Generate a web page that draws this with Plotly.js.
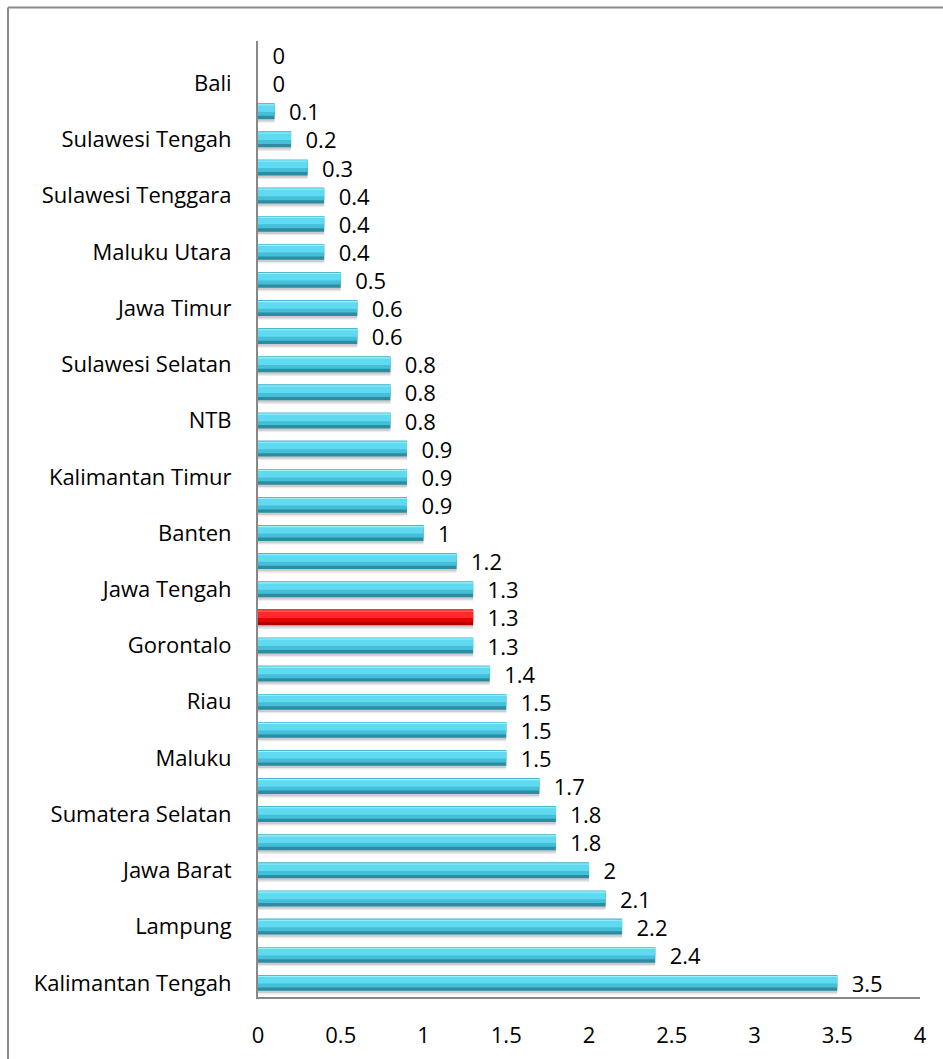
<!DOCTYPE html>
<html>
<head>
<meta charset="utf-8">
<script src="https://cdn.plot.ly/plotly-3.0.1.min.js"></script>
<style>
  html, body { margin: 0; padding: 0; background: #ffffff; }
  #chart { width: 943px; height: 1059px; }
</style>
</head>
<body>
<div id="chart"></div>
<script>
// Categories listed bottom-to-top (Plotly category order on a horizontal bar chart)
const provinces = [
  "Kalimantan Tengah", "Papua", "Lampung", "Sumatera Utara", "Jawa Barat",
  "Jambi", "Sumatera Selatan", "Bengkulu", "Maluku", "Aceh",
  "Riau", "Kalimantan Barat", "Gorontalo", "Indonesia", "Jawa Tengah",
  "Sumatera Barat", "Banten", "Kalimantan Selatan", "Kalimantan Timur", "Sulawesi Utara",
  "NTB", "NTT", "Sulawesi Selatan", "Bangka Belitung", "Jawa Timur",
  "Kepulauan Riau", "Maluku Utara", "Papua Barat", "Sulawesi Tenggara", "Sulawesi Barat",
  "Sulawesi Tengah", "DI Yogyakarta", "Bali", "DKI Jakarta"
];
const values = [
  3.5, 2.4, 2.2, 2.1, 2,
  1.8, 1.8, 1.7, 1.5, 1.5,
  1.5, 1.4, 1.3, 1.3, 1.3,
  1.2, 1, 0.9, 0.9, 0.9,
  0.8, 0.8, 0.8, 0.6, 0.6,
  0.5, 0.4, 0.4, 0.4, 0.3,
  0.2, 0.1, 0, 0
];
// Category labels that are actually printed on the axis (every other one)
const shownLabels = [
  "Kalimantan Tengah", "Lampung", "Jawa Barat", "Sumatera Selatan", "Maluku",
  "Riau", "Gorontalo", "Jawa Tengah", "Banten", "Kalimantan Timur",
  "NTB", "Sulawesi Selatan", "Jawa Timur", "Maluku Utara", "Sulawesi Tenggara",
  "Sulawesi Tengah", "Bali"
];
const xTicks = [0, 0.5, 1, 1.5, 2, 2.5, 3, 3.5, 4];
const highlighted = "Indonesia";

const FONT = "'Open Sans', 'Liberation Sans', sans-serif";
const FS = 22;
const isHi = provinces.map(p => p === highlighted);
const pick = (cyan, red) => isHi.map(h => h ? red : cyan);

const BW = 0.56;
function layer(color, offset, width, extra) {
  return Object.assign({
    type: "bar", orientation: "h",
    x: values, y: provinces,
    width: width, offset: offset,
    marker: { color: color, line: { width: 0 } },
    hoverinfo: "skip", showlegend: false
  }, extra || {});
}

const traces = [
  // soft shadow
  layer("rgba(0,0,0,0.13)", -BW / 2 - 0.08, BW),
  layer("rgba(0,0,0,0.08)", -BW / 2 - 0.13, BW),
  // dark base (bottom of the cylinder)
  layer(pick("#2b8ca3", "#b50000"), -BW / 2, BW),
  // main body
  layer(pick("#45bfd8", "#e80000"), -BW / 2 + 0.12, BW - 0.12),
  // bright upper part
  layer(pick("#5fdaf0", "#ff2a2a"), -0.02, BW / 2 - 0.02),
  // highlight rim
  layer(pick("#9af2fd", "#ff8080"), BW / 2 - 0.07, 0.04),
  // value labels
  layer("rgba(0,0,0,0)", -BW / 2, BW, {
    text: values.map(v => "\u00a0\u00a0" + v),
    textposition: "outside",
    texttemplate: "%{text}",
    constraintext: "none",
    cliponaxis: false,
    textfont: { family: FONT, size: FS, color: "#000000" }
  })
];

const layout = {
  width: 943, height: 1059,
  margin: { l: 258, r: 23, t: 41, b: 62 },
  paper_bgcolor: "#ffffff", plot_bgcolor: "#ffffff",
  barmode: "overlay",
  font: { family: FONT, size: FS, color: "#000000" },
  xaxis: {
    range: [0, 4], tickvals: xTicks, ticktext: xTicks.map(String),
    showgrid: false, zeroline: false,
    showline: true, linecolor: "#888888", linewidth: 2,
    ticks: "", ticklabelstandoff: 18,
    tickfont: { family: FONT, size: FS, color: "#000000" },
    fixedrange: true
  },
  yaxis: {
    type: "category", categoryorder: "array", categoryarray: provinces,
    range: [-0.5, provinces.length - 0.5],
    tickvals: shownLabels, ticktext: shownLabels,
    showgrid: false, zeroline: false,
    showline: true, linecolor: "#888888", linewidth: 2,
    ticks: "", ticklabelstandoff: 20,
    tickfont: { family: FONT, size: FS, color: "#000000" },
    fixedrange: true
  },
  shapes: [
    { type: "line", xref: "paper", yref: "paper",
      x0: (8 - 258) / 662, x1: 1.1, y0: (997 - 7.5) / 956, y1: (997 - 7.5) / 956,
      line: { color: "#8a8a8a", width: 2 } },
    { type: "line", xref: "paper", yref: "paper",
      x0: (8 - 258) / 662, x1: (8 - 258) / 662, y0: -0.1, y1: (997 - 7.5) / 956,
      line: { color: "#8a8a8a", width: 2 } }
  ]
};

Plotly.newPlot("chart", traces, layout, { displayModeBar: false, staticPlot: true });
</script>
</body>
</html>
